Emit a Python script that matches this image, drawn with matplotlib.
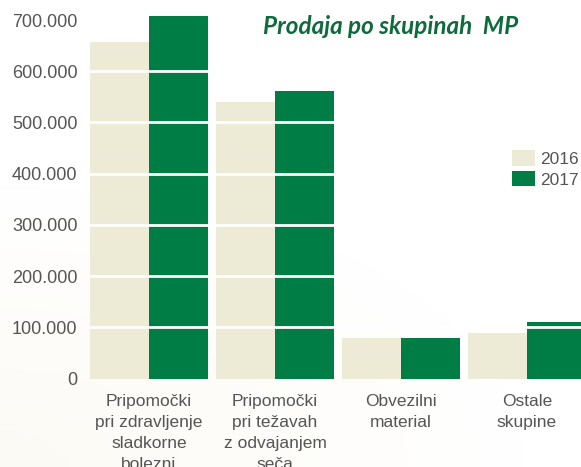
import matplotlib
matplotlib.use("Agg")
import matplotlib.pyplot as plt
import numpy as np
from matplotlib import font_manager
from matplotlib.patches import Patch

categories = ["Pripomočki\npri zdravljenje\nsladkorne\nbolezni",
              "Pripomočki\npri težavah\nz odvajanjem\nseča",
              "Obvezilni\nmaterial",
              "Ostale\nskupine"]
values_2016 = [657000, 540000, 79000, 89000]
values_2017 = [708000, 561000, 79000, 110000]
series_labels = ["2016", "2017"]
ytick_values = [0, 100000, 200000, 300000, 400000, 500000, 600000, 700000]
ytick_labels = ["0", "100.000", "200.000", "300.000", "400.000", "500.000", "600.000", "700.000"]
grid_values = [100000, 200000, 300000, 400000, 500000, 600000]
title = "Prodaja po skupinah  MP"

names = {f.name for f in font_manager.fontManager.ttflist}
narrow = "Liberation Sans Narrow" if "Liberation Sans Narrow" in names else "Liberation Sans"
title_font = "Lato" if "Lato" in names else "DejaVu Sans"

cream = "#EDEBD6"
green = "#007C45"
gray = "#555555"

W, H = 581, 467
fig = plt.figure(figsize=(W / 100, H / 100), dpi=100)
fig.patch.set_facecolor("white")

# subtle cream gradient background (bottom-left)
bg = fig.add_axes([0, 0, 1, 1], zorder=-10)
yy, xx = np.mgrid[0:1:200j, 0:1:250j]
d = np.clip(1 - np.sqrt((xx / 0.9) ** 2 + ((1 - yy) / 0.6) ** 2), 0, 1)
img = np.ones((200, 250, 3))
img[..., 0] = 1 - 0.010 * d
img[..., 1] = 1 - 0.018 * d
img[..., 2] = 1 - 0.040 * d
bg.imshow(img, extent=[0, 1, 0, 1], aspect="auto", origin="upper")
bg.axis("off")

px0 = 90
y0_px = 378.5
per100k = 51.2
ymax = 720000
top_px = y0_px - ymax / 100000 * per100k
ax = fig.add_axes([px0 / W, (H - y0_px) / H, (W - px0) / W, (y0_px - top_px) / H])
ax.patch.set_alpha(0)

group_px = 126.0
bar_px = 59.0
w = bar_px / group_px
x = np.arange(len(categories))
ax.bar(x - w / 2, values_2016, width=w, color=cream, zorder=1, linewidth=0)
ax.bar(x + w / 2, values_2017, width=w, color=green, zorder=1, linewidth=0)
for g in grid_values:
    ax.axhline(g, color="white", lw=2.0, zorder=2)

ax.set_xlim(-w, (W - px0) / group_px - w)
ax.set_ylim(0, ymax)
for s in ax.spines.values():
    s.set_visible(False)

ax.set_yticks(ytick_values)
ax.set_yticklabels(ytick_labels, fontfamily=narrow, fontsize=13, color=gray)
ax.tick_params(axis="y", length=0, pad=9)
ax.set_xticks(x)
ax.set_xticklabels(categories, fontfamily=narrow, fontsize=12.5, color=gray, linespacing=1.5)
ax.tick_params(axis="x", length=0, pad=11.5)

fig.text(263 / W, 1 - 26 / H, title, fontfamily=title_font, fontstyle="italic", fontweight="bold",
         fontsize=17.5, color="#0E6B3B", ha="left", va="center")

handles = [Patch(facecolor=cream, edgecolor="none"), Patch(facecolor=green, edgecolor="none")]
leg = fig.legend(handles, series_labels, loc="upper left", bbox_to_anchor=(507 / W, 1 - 145 / H),
                 frameon=False, handlelength=1.32, handleheight=0.98,
                 handletextpad=0.3, labelspacing=0.25, borderaxespad=0, borderpad=0.3,
                 prop={"family": narrow, "size": 12.5})
for t in leg.get_texts():
    t.set_color(gray)

fig.savefig("out.png", dpi=100)
